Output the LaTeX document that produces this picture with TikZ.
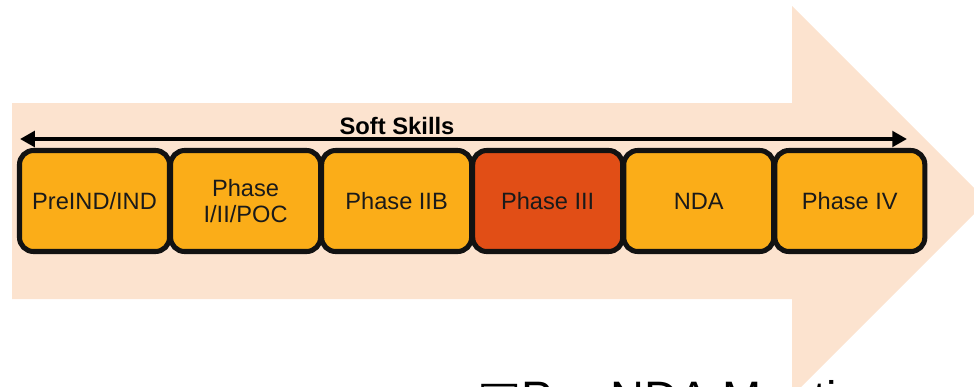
\documentclass[tikz,border=0pt]{standalone}
\usepackage{fontspec}
\setmainfont{Liberation Sans}
\newfontfamily\symfont{DejaVu Sans}
\usepackage[HTML]{xcolor}
\usetikzlibrary{positioning, arrows.meta}

\definecolor{peach}{HTML}{FCE3CF}
\definecolor{amber}{HTML}{FBAD18}
\definecolor{rust}{HTML}{E14E16}

\tikzset{
  phase/.style={draw=black!93, line width=3.6pt, rounded corners=10pt, fill=amber,
    minimum width=37.5mm, minimum height=25.25mm, align=center,
    font=\fontsize{16.8}{18.5}\selectfont, text=black!90},
  span/.style={<->, >={Triangle[length=10.5pt,width=11pt]}, line width=2.8pt},
}

\begin{document}
\begin{tikzpicture}[x=0.25mm, y=-0.25mm]
\clip (0,0) rectangle (974,386);
% big arrow behind everything
\fill[peach] (12,103) -- (792,103) -- (792,6) -- (987,201) -- (792,396) -- (792,299) -- (12,299) -- cycle;
% phase boxes
\node[phase] (pre) at (94.5,201) {PreIND/IND};
\node[phase, right=-1mm of pre] (poc) {Phase\\I/II/POC};
\node[phase, right=-1mm of poc] (iib) {Phase IIB};
\node[phase, fill=rust, right=-1mm of iib] (iii) {Phase III};
\node[phase, right=-1mm of iii] (nda) {NDA};
\node[phase, right=-1mm of nda] (iv) {Phase IV};
% soft skills span
\coordinate (sl) at (20,139);
\coordinate (sr) at (907,139);
\draw[span] (sl) -- (sr);
\node[anchor=base, inner sep=0, font=\bfseries\fontsize{16.9}{20}\selectfont] (soft) at (397,134) {Soft Skills};
% next heading, cut off by the page
\node[anchor=base west, inner sep=0, font=\fontsize{33.4}{40}\selectfont] (meet) at (477,414) {{\symfont □}Pre-NDA Meeting};
\end{tikzpicture}
\end{document}
